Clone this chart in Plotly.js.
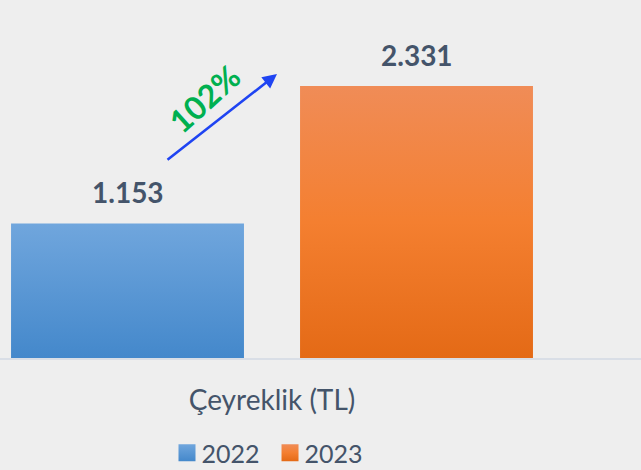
<!DOCTYPE html>
<html>
<head>
<meta charset="utf-8">
<script src="https://cdn.plot.ly/plotly-3.0.1.min.js"></script>
<style>
html,body{margin:0;padding:0;background:#eeeeee;}
#chart{width:641px;height:470px;}
</style>
</head>
<body>
<div id="chart"></div>
<script>
var categories = ["Çeyreklik (TL)"];
var seriesNames = ["2022", "2023"];
var values2022 = [1153];
var values2023 = [2331];
var changeLabel = "102%";

var seriesValues = [values2022, values2023];
var colors = ["#5a9bdc", "#f27d2e"];
var gradients = [["#70a6dd", "#4488cb"], ["#f08c57", "#f47f30", "#e46a16"]];
var textColor = "#44546a";
var fontFam = "Lato, 'Open Sans', sans-serif";

var bargap = 0;
var bargroupgap = 0.194;

var traces = seriesNames.map(function (n, i) {
  return {
    type: "bar",
    name: n,
    x: categories,
    y: seriesValues[i],
    marker: { color: colors[i] },
    hoverinfo: "skip"
  };
});

var slot = (1 - bargap) / seriesNames.length;
var annotations = [];
seriesNames.forEach(function (n, i) {
  seriesValues[i].forEach(function (v, j) {
    annotations.push({
      xref: "x", yref: "y",
      x: j + (i - (seriesNames.length - 1) / 2) * slot,
      y: v,
      text: "<b>" + v.toLocaleString("tr-TR") + "</b>",
      showarrow: false,
      xanchor: "center",
      yanchor: "bottom",
      yshift: 12,
      font: { family: fontFam, size: 28, color: textColor }
    });
  });
});
// growth arrow
annotations.push({
  xref: "paper", yref: "paper",
  x: 277 / 641, y: (358 - 74) / 358,
  ax: -111, ay: 87,
  text: "",
  showarrow: true,
  arrowhead: 2, arrowsize: 1.1, arrowwidth: 2.6,
  arrowcolor: "#1f44f2"
});
annotations.push({
  xref: "paper", yref: "paper",
  x: 204 / 641, y: (358 - 98) / 358,
  xanchor: "center", yanchor: "middle",
  text: "<b>" + changeLabel + "</b>",
  showarrow: false,
  textangle: -42,
  font: { family: fontFam, size: 32, color: "#00b050" }
});

var layout = {
  width: 641, height: 470,
  margin: { l: 0, r: 0, t: 0, b: 112, autoexpand: false },
  paper_bgcolor: "#eeeeee",
  plot_bgcolor: "rgba(0,0,0,0)",
  separators: ",.",
  bargap: bargap,
  bargroupgap: bargroupgap,
  barmode: "group",
  xaxis: {
    type: "category",
    range: [-0.4706, 0.6384],
    showline: true, linecolor: "#d9dee6", linewidth: 2,
    ticks: "", ticklabelstandoff: 16,
    tickfont: { family: fontFam, size: 28, color: textColor },
    showgrid: false, zeroline: false, fixedrange: true
  },
  yaxis: {
    range: [0, 3068],
    visible: false, showgrid: false, zeroline: false, fixedrange: true
  },
  showlegend: true,
  legend: {
    orientation: "h",
    x: 265 / 641, xanchor: "center",
    y: (358 - 453) / 358, yanchor: "middle",
    font: { family: fontFam, size: 25, color: textColor },
    bgcolor: "rgba(0,0,0,0)",
    itemclick: false, itemdoubleclick: false
  },
  annotations: annotations
};

Plotly.newPlot("chart", traces, layout, { displayModeBar: false, staticPlot: true }).then(function (gd) {
  var svg = gd.querySelector("svg.main-svg");
  var defs = svg.querySelector("defs");
  var ns = "http://www.w3.org/2000/svg";
  gradients.forEach(function (stops, i) {
    var lg = document.createElementNS(ns, "linearGradient");
    lg.setAttribute("id", "barGrad" + i);
    lg.setAttribute("x1", "0"); lg.setAttribute("y1", "0");
    lg.setAttribute("x2", "0"); lg.setAttribute("y2", "1");
    stops.forEach(function (c, k) {
      var s = document.createElementNS(ns, "stop");
      s.setAttribute("offset", (k / (stops.length - 1)).toString());
      s.setAttribute("stop-color", c);
      lg.appendChild(s);
    });
    defs.appendChild(lg);
  });
  var groups = gd.querySelectorAll(".barlayer .trace");
  groups.forEach(function (g, i) {
    g.querySelectorAll("path").forEach(function (p) {
      p.style.fill = "url(#barGrad" + i + ")";
    });
  });
  var legPts = gd.querySelectorAll(".legend .traces");
  legPts.forEach(function (g, i) {
    g.querySelectorAll(".legendpoints path").forEach(function (p) {
      p.setAttribute("d", "M-3,8.5H14V-8.5H-3Z");
      p.style.fill = "url(#barGrad" + i + ")";
      p.style.stroke = "none";
    });
  });
});
</script>
</body>
</html>
